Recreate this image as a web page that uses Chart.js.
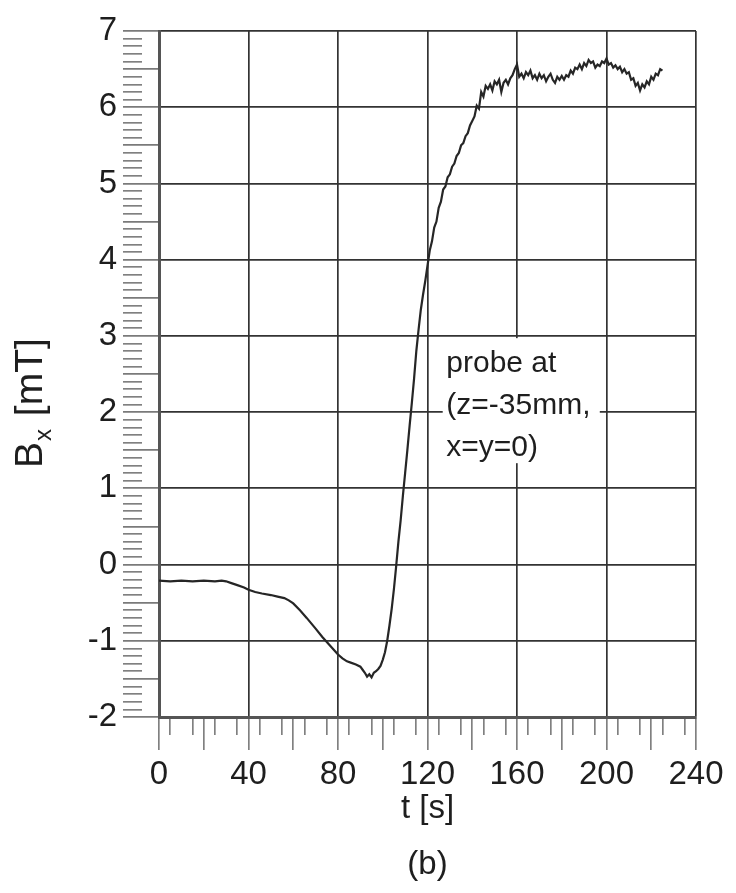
<!DOCTYPE html>
<html>
<head>
<meta charset="utf-8">
<script src="https://cdn.jsdelivr.net/npm/chart.js@4.4.1/dist/chart.umd.min.js"></script>
<style>
  html, body { margin: 0; padding: 0; background: #fff; }
  #wrap { width: 736px; height: 893px; }
</style>
</head>
<body>
<div id="wrap"><canvas id="chart"></canvas></div>
<script>
// labelled ticks
const xTicks = [0, 40, 80, 120, 160, 200, 240];
const yTicks = [-2, -1, 0, 1, 2, 3, 4, 5, 6, 7];

// slow drift and dip
const tDip = [0, 5, 10, 15, 20, 25, 28, 30, 32, 35, 38, 40, 43, 46, 50, 53, 56, 58, 60, 63, 66, 70, 73, 76, 80,
  82, 84, 86, 88, 90, 91, 92, 93, 94, 95, 96, 97, 98, 99, 100, 101, 102, 103, 104, 105];
const bDip = [-0.21, -0.22, -0.21, -0.22, -0.21, -0.22, -0.21, -0.22, -0.24, -0.27, -0.30, -0.33, -0.36, -0.38, -0.40,
  -0.42, -0.44, -0.47, -0.51, -0.60, -0.70, -0.84, -0.95, -1.05, -1.18,
  -1.23, -1.27, -1.29, -1.31, -1.34, -1.38, -1.42, -1.47, -1.44, -1.48, -1.42, -1.40, -1.37, -1.33, -1.25,
  -1.15, -1.00, -0.80, -0.58, -0.32];

// steep rise
const tRise = [106, 107, 108, 109, 110, 111, 112, 113, 114, 115, 116, 117, 118, 119, 120, 121, 122, 123,
  124, 125, 126, 127, 128, 129, 130, 131, 132, 133, 134, 135, 136, 137, 138, 139];
const bRise = [-0.02, 0.30, 0.58, 0.90, 1.20, 1.50, 1.82, 2.12, 2.44, 2.80, 3.08, 3.34, 3.54, 3.72, 3.92, 4.12, 4.24, 4.42,
  4.50, 4.68, 4.76, 4.92, 4.96, 5.08, 5.12, 5.22, 5.26, 5.36, 5.40, 5.50, 5.53, 5.62, 5.66, 5.76];

// noisy plateau
const tTop = [140, 141, 142, 143, 144, 145, 146, 147, 148, 149, 150, 151, 152, 153, 154, 155, 156, 157, 158, 159,
  160, 161, 162, 163, 164, 165, 166, 167, 168, 169, 170, 171, 172, 173, 174, 175, 176, 177, 178, 179,
  180, 181, 182, 183, 184, 185, 186, 187, 188, 189, 190, 191, 192, 193, 194, 195, 196, 197, 198, 199,
  200, 201, 202, 203, 204, 205, 206, 207, 208, 209, 210, 211, 212, 213, 214, 215, 216, 217, 218, 219,
  220, 221, 222, 223, 224, 225];
const bTop = [5.82, 5.88, 6.02, 5.98, 6.20, 6.14, 6.28, 6.24, 6.30, 6.22, 6.34, 6.30, 6.36, 6.20, 6.32, 6.36, 6.30, 6.38, 6.42, 6.50,
  6.56, 6.40, 6.44, 6.38, 6.46, 6.42, 6.48, 6.38, 6.42, 6.36, 6.44, 6.38, 6.42, 6.34, 6.40, 6.44, 6.36, 6.32, 6.40, 6.36,
  6.41, 6.36, 6.42, 6.40, 6.48, 6.44, 6.52, 6.50, 6.56, 6.50, 6.58, 6.54, 6.62, 6.58, 6.60, 6.52, 6.56, 6.54, 6.60, 6.58,
  6.64, 6.56, 6.58, 6.52, 6.55, 6.50, 6.53, 6.46, 6.50, 6.44, 6.46, 6.36, 6.38, 6.28, 6.32, 6.22, 6.30, 6.26, 6.34, 6.30,
  6.40, 6.36, 6.44, 6.42, 6.50, 6.48];

const noteLines = ['probe at', '(z=-35mm,', 'x=y=0)'];

const FONT = '"Liberation Sans", Arial, sans-serif';
const INK = '#1e1e1e';
const GRID = '#333';
const TICK = '#7a7a7a';
const CLEAR = 'rgba(0,0,0,0)';

const times = tDip.concat(tRise, tTop);
const field = bDip.concat(bRise, bTop);
const points = times.map((t, i) => ({ x: t, y: field[i] }));

// white box behind the note, plus the note text
const notePlugin = {
  id: 'note',
  beforeDatasetsDraw(chart) {
    const { ctx, scales: { x, y } } = chart;
    const left = x.getPixelForValue(126.8), right = x.getPixelForValue(197);
    const top = y.getPixelForValue(2.97), bottom = y.getPixelForValue(1.33);
    ctx.save();
    ctx.fillStyle = '#fff';
    ctx.fillRect(left, top, right - left, bottom - top);
    ctx.fillStyle = INK;
    ctx.font = '30px ' + FONT;
    ctx.textBaseline = 'alphabetic';
    const tx = x.getPixelForValue(128.4);
    const ty = y.getPixelForValue(2.53);
    noteLines.forEach((line, i) => ctx.fillText(line, tx, ty + i * 42));
    ctx.restore();
  }
};

// rotated y title with subscript
const yTitlePlugin = {
  id: 'ytitle',
  afterDraw(chart) {
    const ctx = chart.ctx;
    ctx.save();
    ctx.translate(42, 468);
    ctx.rotate(-Math.PI / 2);
    ctx.fillStyle = INK;
    ctx.textBaseline = 'alphabetic';
    ctx.font = '39px ' + FONT;
    ctx.fillText('B', 0, 0);
    let w = ctx.measureText('B').width + 1;
    ctx.font = '24px ' + FONT;
    ctx.fillText('x', w, 9);
    w += ctx.measureText('x').width + 2;
    ctx.font = '39px ' + FONT;
    ctx.fillText(' [mT]', w, 0);
    ctx.restore();
  }
};

new Chart(document.getElementById('chart'), {
  type: 'line',
  data: {
    datasets: [{
      data: points,
      borderColor: '#262626',
      borderWidth: 2.2,
      pointRadius: 0,
      tension: 0,
      fill: false
    }]
  },
  options: {
    responsive: true,
    maintainAspectRatio: false,
    animation: false,
    layout: { padding: { left: 0, right: 40, top: 31, bottom: 0 } },
    plugins: { legend: { display: false }, tooltip: { enabled: false } },
    scales: {
      x: {
        type: 'linear',
        min: 0,
        max: 240,
        afterBuildTicks(scale) {
          const ticks = [];
          for (let v = 0; v <= 240; v += 5) ticks.push({ value: v });
          scale.ticks = ticks;
        },
        afterFit(scale) { scale.height = 176; },
        border: { display: true, color: '#555', width: 3 },
        grid: {
          tickLength: 33,
          color: c => (c.tick && xTicks.includes(c.tick.value)) ? GRID : CLEAR,
          lineWidth: 1.7,
          tickColor: c => (c.tick && (c.tick.value % 20 === 0 || c.tick.value % 10 === 5)) ? TICK : CLEAR,
          tickWidth: 1.6,
          tickBorderDash: c => (c.tick && c.tick.value % 20 === 0) ? [] : [16, 60]
        },
        ticks: {
          autoSkip: false,
          maxRotation: 0,
          padding: 5,
          color: INK,
          font: { family: FONT, size: 33 },
          callback: v => xTicks.includes(v) ? String(v) : ''
        },
        title: {
          display: true,
          text: ['t [s]', '(b)'],
          color: INK,
          font: { family: FONT, size: 33, lineHeight: 56 / 33 },
          padding: { top: 0, bottom: 0 }
        }
      },
      y: {
        type: 'linear',
        min: -2,
        max: 7,
        afterBuildTicks(scale) {
          const ticks = [];
          for (let k = -20; k <= 70; k++) ticks.push({ value: k / 10 });
          scale.ticks = ticks;
        },
        afterFit(scale) { scale.width = 159; },
        border: { display: true, color: '#555', width: 3 },
        grid: {
          tickLength: 36,
          color: c => (c.tick && yTicks.includes(c.tick.value)) ? GRID : CLEAR,
          lineWidth: 1.7,
          tickColor: TICK,
          tickWidth: 1.6,
          tickBorderDash: c => (c.tick && Math.round(c.tick.value * 10) % 5 === 0) ? [] : [19, 60]
        },
        ticks: {
          autoSkip: false,
          padding: 6,
          color: INK,
          font: { family: FONT, size: 33 },
          callback: v => yTicks.includes(v) ? String(v) : ''
        }
      }
    }
  },
  plugins: [notePlugin, yTitlePlugin]
});
</script>
</body>
</html>
